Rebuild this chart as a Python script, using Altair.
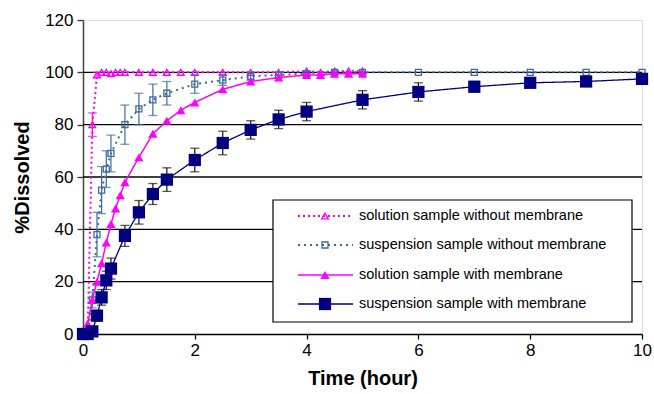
import altair as alt
import pandas as pd

# ---- data ----
labels = ["solution sample without membrane", "suspension sample without membrane",
          "solution sample with membrane", "suspension sample with membrane"]

t_sol_wo = [0, 0.083, 0.167, 0.25, 0.333, 0.417, 0.5, 0.583, 0.667, 0.75, 1, 1.25, 1.5, 1.75, 2, 2.5, 3, 3.5, 4, 4.25, 4.5, 4.75, 5]
v_sol_wo = [0, 0, 80, 99, 100, 100, 99.5, 100, 100, 100, 100, 100, 100, 100, 100, 100, 100, 100, 100.5, 100, 100.5, 100.5, 100.5]
e_sol_wo = [0, 0, 4.5, 1, 0.5, 0.5, 0.5, 0.5, 0.5, 0.5, 0.5, 0.5, 0.5, 0.5, 0.5, 0.5, 0.5, 0.5, 0.5, 0.5, 0.5, 0.5, 0.5]

t_sus_wo = [0, 0.083, 0.167, 0.25, 0.333, 0.417, 0.5, 0.75, 1, 1.25, 1.5, 2, 2.5, 3, 3.5, 4, 4.5, 5, 6, 7, 8, 9, 10]
v_sus_wo = [0, 0, 13, 38, 55, 63, 69, 80, 86, 89.5, 92, 95.5, 97, 98.5, 99, 99.5, 100, 100, 100, 100, 100, 100, 100]
e_sus_wo = [0, 0, 3, 8.5, 9, 7, 7, 7.5, 6, 6, 4.5, 3.5, 2, 1.5, 1, 1, 0.5, 0.5, 0.5, 0.5, 0.5, 0.5, 0.5]

t_sol_w = [0, 0.083, 0.167, 0.25, 0.333, 0.417, 0.5, 0.583, 0.667, 0.75, 1, 1.25, 1.5, 1.75, 2, 2.5, 3, 3.5, 4, 4.25, 4.5, 4.75, 5]
v_sol_w = [0, 4, 13, 20, 27, 35, 42, 48, 53, 58, 67.5, 76.5, 81.5, 85.5, 88.5, 93.5, 96.5, 98, 99, 99, 99.5, 99.5, 99.5]
e_sol_w = [0, 0.5, 0.5, 0.5, 0.5, 0.5, 0.5, 0.5, 0.5, 0.5, 0.5, 0.5, 0.5, 0.5, 0.5, 0.5, 0.5, 0.5, 0.5, 0.5, 0.5, 0.5, 0.5]

t_sus_w = [0, 0.083, 0.167, 0.25, 0.333, 0.417, 0.5, 0.75, 1, 1.25, 1.5, 2, 2.5, 3, 3.5, 4, 5, 6, 7, 8, 9, 10]
v_sus_w = [0, 0, 1, 7, 14, 20.5, 25, 37.5, 46.5, 53.5, 59, 66.5, 73, 78, 82, 85, 89.5, 92.5, 94.5, 96, 96.5, 97.5]
e_sus_w = [0, 0, 0.5, 2, 3, 3.5, 4, 4, 4.5, 4, 4.5, 4.5, 4.5, 3.5, 3.5, 3.5, 3.5, 3.5, 2, 1, 1, 1]

grid_vals = [20, 40, 60, 80, 100]

# ---- styles ----
styles = [
    dict(color="#FF00FF", ecolor="#FF00FF", dash=[2, 3], width=2, shape="triangle-up", filled=False, size=45),
    dict(color="#3D6B9C", ecolor="#3D6B9C", dash=[2, 4], width=2, shape="square", filled=False, size=36),
    dict(color="#FF00FF", ecolor="#FF00FF", dash=[1, 0], width=1.5, shape="triangle-up", filled=True, size=85),
    dict(color="#000080", ecolor="#111111", dash=[1, 0], width=1.3, shape="square", filled=True, size=150),
]
series = [(t_sol_wo, v_sol_wo, e_sol_wo), (t_sus_wo, v_sus_wo, e_sus_wo),
          (t_sol_w, v_sol_w, e_sol_w), (t_sus_w, v_sus_w, e_sus_w)]

xscale = alt.Scale(domain=[0, 10], nice=False, zero=True)
yscale = alt.Scale(domain=[0, 120], nice=False)

xaxis = alt.Axis(values=[0, 2, 4, 6, 8, 10], title="Time (hour)", grid=False, labelFlush=False,
                 labelFont="Liberation Sans", labelFontSize=17, labelColor="#000",
                 titleFont="Liberation Sans", titleFontSize=20, titleFontWeight="bold",
                 titleColor="#000", tickColor="#000", tickSize=5, tickWidth=1.3,
                 domainColor="#000", domainWidth=1.5, labelPadding=3, titlePadding=10)
yaxis = alt.Axis(values=[0, 20, 40, 60, 80, 100, 120], title="%Dissolved", grid=False, labelFlush=False,
                 labelFont="Liberation Sans", labelFontSize=17, labelColor="#000",
                 titleFont="Liberation Sans", titleFontSize=20, titleFontWeight="bold",
                 titleColor="#000", tickColor="#333", tickSize=6, tickWidth=1.3,
                 domainColor="#444", domainWidth=1.5, labelPadding=4, titlePadding=12)

grid = alt.Chart(pd.DataFrame({"g": grid_vals})).mark_rule(color="#000", strokeWidth=1.3).encode(
    y=alt.Y("g:Q", scale=yscale, axis=yaxis)
)

layers = [grid]
for (t, v, e), st, lab in zip(series, styles, labels):
    df = pd.DataFrame({"t": t, "v": v, "e": e})
    df["lo"] = df["v"] - df["e"]
    df["hi"] = df["v"] + df["e"]
    base = alt.Chart(df)
    X = alt.X("t:Q", scale=xscale, axis=xaxis)
    ebar = base.transform_filter("datum.e >= 1").mark_rule(color=st["ecolor"], strokeWidth=1.2).encode(
        x=X, y=alt.Y("lo:Q", scale=yscale), y2="hi:Q")
    cap_lo = base.transform_filter("datum.e >= 1").mark_tick(color=st["ecolor"], orient="horizontal",
                                                              size=9, thickness=1.3).encode(
        x=X, y=alt.Y("lo:Q", scale=yscale))
    cap_hi = base.transform_filter("datum.e >= 1").mark_tick(color=st["ecolor"], orient="horizontal",
                                                              size=9, thickness=1.3).encode(
        x=X, y=alt.Y("hi:Q", scale=yscale))
    line = base.mark_line(color=st["color"], strokeWidth=st["width"], strokeDash=st["dash"]).encode(
        x=X, y=alt.Y("v:Q", scale=yscale))
    pts = base.mark_point(shape=st["shape"], filled=st["filled"], size=st["size"],
                          color=st["color"], strokeWidth=1.3, opacity=1).encode(
        x=X, y=alt.Y("v:Q", scale=yscale))
    layers += [ebar, cap_lo, cap_hi, line, pts]

# ---- legend box drawn manually ----
one = alt.Chart(pd.DataFrame({"a": [0]}))
layers.append(one.mark_rect(fill="white", stroke="#000", strokeWidth=1.2).encode(
    x=alt.value(190), x2=alt.value(549), y=alt.value(180), y2=alt.value(302)))
row_y = [196, 225, 255, 284]
for ry, st, lab in zip(row_y, styles, labels):
    layers.append(one.mark_rule(color=st["color"], strokeWidth=st["width"], strokeDash=st["dash"]).encode(
        x=alt.value(215), x2=alt.value(270), y=alt.value(ry)))
    layers.append(one.mark_point(shape=st["shape"], filled=st["filled"], size=st["size"],
                                 color=st["color"], strokeWidth=1.3, opacity=1).encode(
        x=alt.value(242), y=alt.value(ry)))
    layers.append(one.mark_text(text=lab, align="left", baseline="middle", font="Liberation Sans",
                                fontSize=14.5, color="#000").encode(
        x=alt.value(276), y=alt.value(ry)))

chart = alt.layer(*layers).properties(
    width=559, height=314,
    padding={"left": 83, "top": 20, "right": 12, "bottom": 60},
    autosize="none",
).configure_view(fill="#C0C0C0", stroke="#8A8A8A", strokeWidth=1.5).configure(background="white")

chart.save("out.html", embed_options={"renderer": "svg", "actions": False})
